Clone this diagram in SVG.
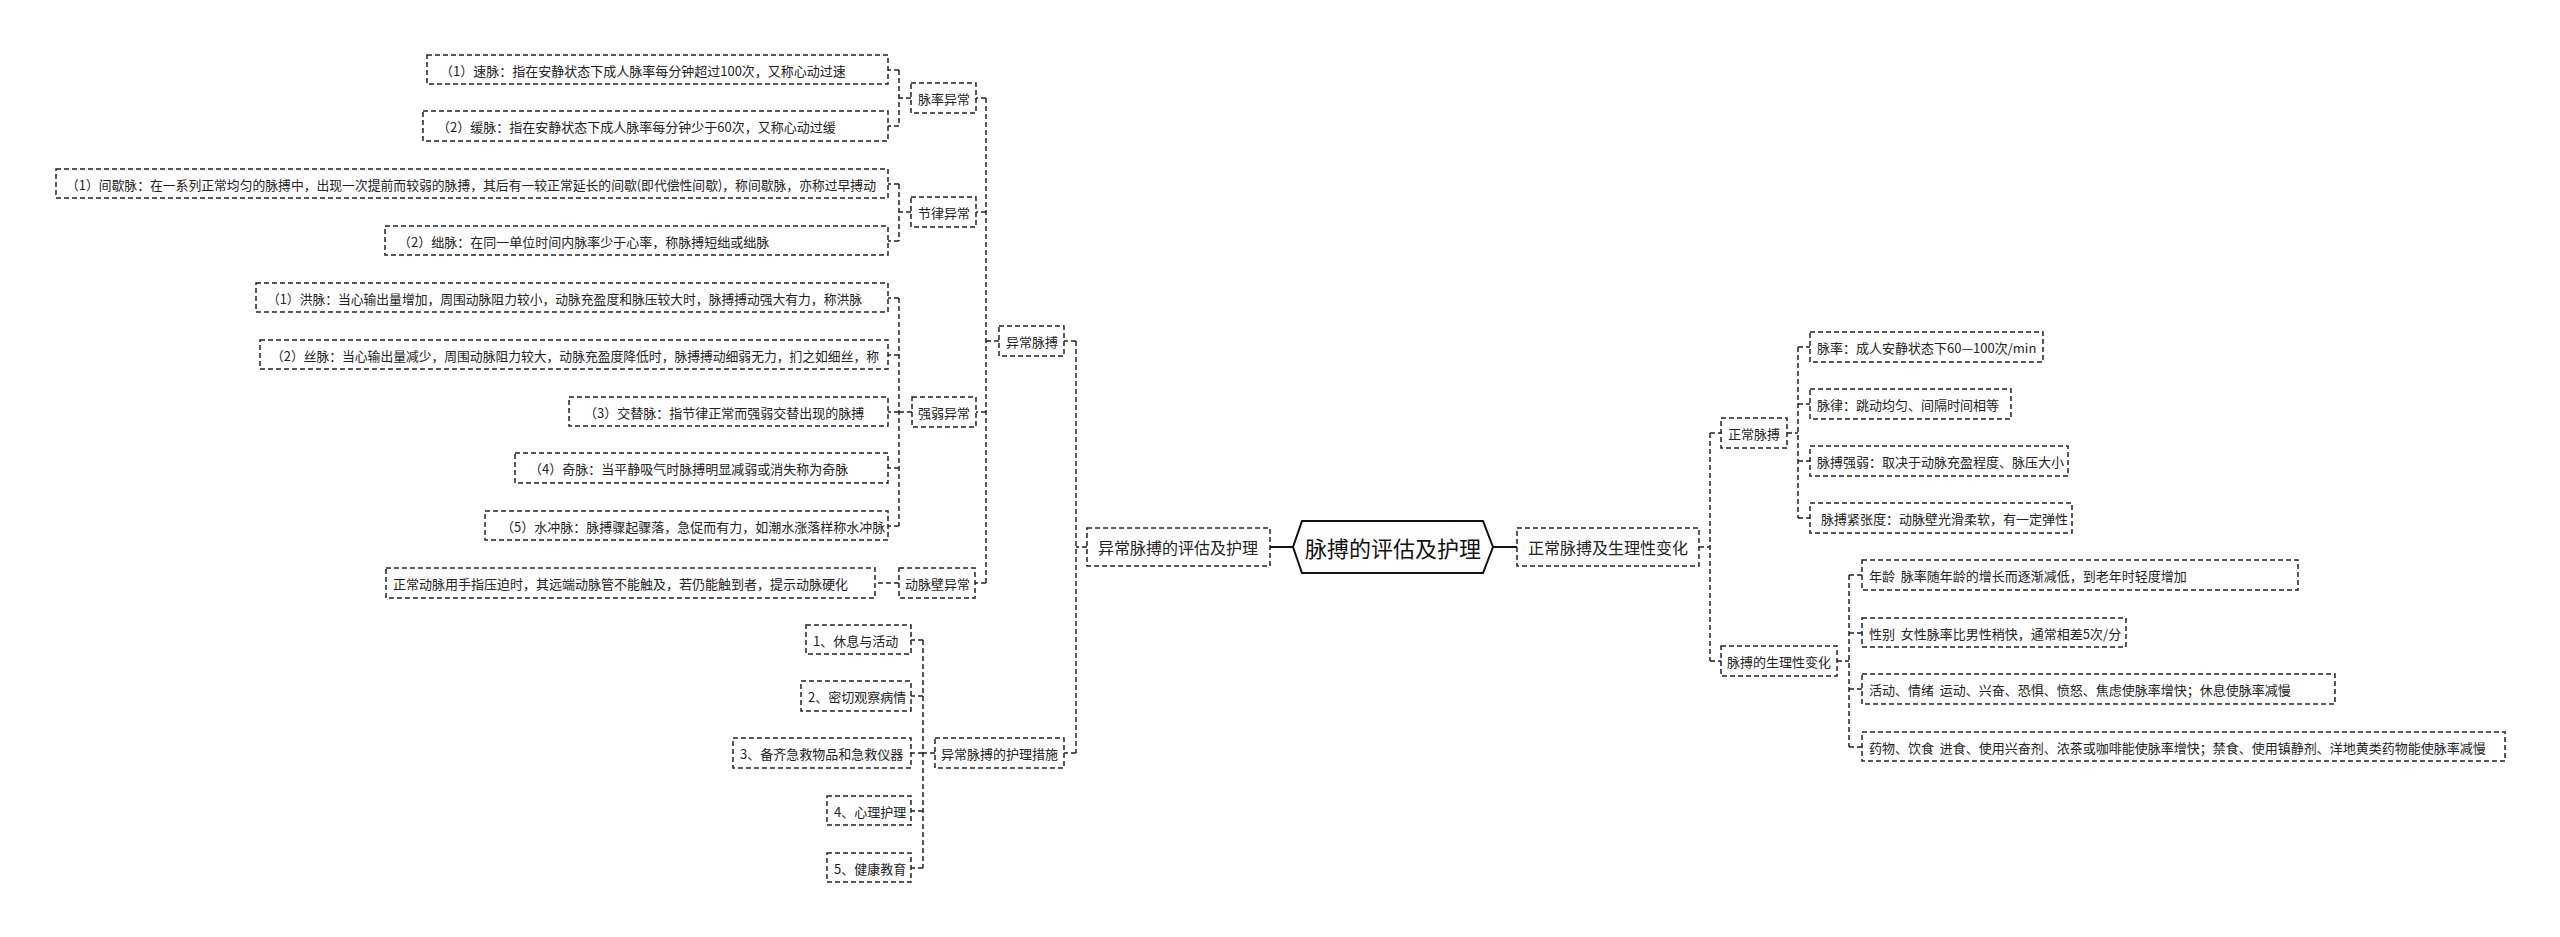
<svg xmlns="http://www.w3.org/2000/svg" width="2560" height="937" viewBox="0 0 2560 937">
<style>
.b{fill:#fff;stroke:#222;stroke-width:1.5;stroke-dasharray:5 3}
.c{fill:none;stroke:#222;stroke-width:1.5;stroke-dasharray:5 3}
.s{fill:none;stroke:#111;stroke-width:2}
text{font-family:"Noto Sans CJK SC","Liberation Sans",sans-serif;fill:#222;dominant-baseline:central}
.t13{font-size:13px}
.t16{font-size:16px}
.t22{font-size:22px;fill:#111}
</style>
<rect width="2560" height="937" fill="#fff"/>
<g id="connectors">
<path class="s" d="M1270 547H1293M1493 547H1517"/>
<path class="c" d="M1087 547H1076M1076 341V753M1076 341H1064M1076 753H1064"/>
<path class="c" d="M999 341H986M986 98V583M986 98H976M986 212H976M986 412H976M986 583H975"/>
<path class="c" d="M911 98H899M899 70V126M899 70H888M899 126H888"/>
<path class="c" d="M911 212H899M899 184V241M899 184H888M899 241H888"/>
<path class="c" d="M912 412H899M899 298V526M899 298H888M899 355H888M899 412H888M899 468H888M899 526H888"/>
<path class="c" d="M899 583H875"/>
<path class="c" d="M935 753H923M923 640V868M923 640H911M923 696H911M923 753H911M923 811H911M923 868H911"/>
<path class="c" d="M1699 547H1710M1710 433V661M1710 433H1721M1710 661H1721"/>
<path class="c" d="M1787 433H1798M1798 347V518M1798 347H1810M1798 404H1810M1798 461H1810M1798 518H1810"/>
<path class="c" d="M1837 661H1849M1849 575V747M1849 575H1862M1849 633H1862M1849 689H1862M1849 747H1862"/>
</g>
<g id="root"><polygon points="1293,547 1302,521 1483,521 1493,547 1483,573 1302,573" fill="#fff" stroke="#111" stroke-width="2"/><text class="t22" x="1393" y="547" text-anchor="middle">脉搏的评估及护理</text></g>
<g id="n-abn-eval"><rect class="b" x="1087" y="528" width="183" height="38"/><text class="t16" x="1098" y="547">异常脉搏的评估及护理</text></g>
<g id="n-normal-main"><rect class="b" x="1517" y="528" width="182" height="38"/><text class="t16" x="1528" y="547">正常脉搏及生理性变化</text></g>
<g id="n-abn"><rect class="b" x="999" y="326" width="65" height="30"/><text class="t13" x="1006" y="341">异常脉搏</text></g>
<g id="n-care"><rect class="b" x="935" y="738" width="129" height="30"/><text class="t13" x="941" y="753">异常脉搏的护理措施</text></g>
<g id="n-rate"><rect class="b" x="911" y="83" width="65" height="30"/><text class="t13" x="918" y="98">脉率异常</text></g>
<g id="n-rhythm"><rect class="b" x="911" y="197" width="65" height="30"/><text class="t13" x="918" y="212">节律异常</text></g>
<g id="n-strength"><rect class="b" x="912" y="397" width="64" height="30"/><text class="t13" x="918" y="412">强弱异常</text></g>
<g id="n-wall"><rect class="b" x="899" y="568" width="76" height="30"/><text class="t13" x="905" y="583">动脉壁异常</text></g>
<g id="n-fast"><rect class="b" x="427" y="55" width="461" height="29"/><text class="t13" x="440" y="70">（1）速脉：指在安静状态下成人脉率每分钟超过100次，又称心动过速</text></g>
<g id="n-slow"><rect class="b" x="423" y="111" width="465" height="30"/><text class="t13" x="437" y="126">（2）缓脉：指在安静状态下成人脉率每分钟少于60次，又称心动过缓</text></g>
<g id="n-inter"><rect class="b" x="56" y="169" width="832" height="29"/><text class="t13" x="66" y="184" textLength="810" lengthAdjust="spacingAndGlyphs">（1）间歇脉：在一系列正常均匀的脉搏中，出现一次提前而较弱的脉搏，其后有一较正常延长的间歇(即代偿性间歇)，称间歇脉，亦称过早搏动</text></g>
<g id="n-deficit"><rect class="b" x="385" y="226" width="503" height="29"/><text class="t13" x="398" y="241">（2）绌脉：在同一单位时间内脉率少于心率，称脉搏短绌或绌脉</text></g>
<g id="n-bound"><rect class="b" x="256" y="283" width="632" height="29"/><text class="t13" x="267" y="298" textLength="595" lengthAdjust="spacingAndGlyphs">（1）洪脉：当心输出量增加，周围动脉阻力较小，动脉充盈度和脉压较大时，脉搏搏动强大有力，称洪脉</text></g>
<g id="n-thread"><rect class="b" x="260" y="340" width="628" height="29"/><text class="t13" x="271" y="355" textLength="608" lengthAdjust="spacingAndGlyphs">（2）丝脉：当心输出量减少，周围动脉阻力较大，动脉充盈度降低时，脉搏搏动细弱无力，扪之如细丝，称</text></g>
<g id="n-alt"><rect class="b" x="569" y="397" width="319" height="29"/><text class="t13" x="584" y="412">（3）交替脉：指节律正常而强弱交替出现的脉搏</text></g>
<g id="n-para"><rect class="b" x="515" y="453" width="373" height="30"/><text class="t13" x="529" y="468">（4）奇脉：当平静吸气时脉搏明显减弱或消失称为奇脉</text></g>
<g id="n-water"><rect class="b" x="485" y="511" width="403" height="29"/><text class="t13" x="501" y="526">（5）水冲脉：脉搏骤起骤落，急促而有力，如潮水涨落样称水冲脉</text></g>
<g id="n-hard"><rect class="b" x="386" y="568" width="489" height="30"/><text class="t13" x="393" y="583">正常动脉用手指压迫时，其远端动脉管不能触及，若仍能触到者，提示动脉硬化</text></g>
<g id="n-c1"><rect class="b" x="806" y="625" width="105" height="29"/><text class="t13" x="813" y="640">1、休息与活动</text></g>
<g id="n-c2"><rect class="b" x="801" y="681" width="110" height="30"/><text class="t13" x="808" y="696">2、密切观察病情</text></g>
<g id="n-c3"><rect class="b" x="733" y="738" width="178" height="30"/><text class="t13" x="740" y="753">3、备齐急救物品和急救仪器</text></g>
<g id="n-c4"><rect class="b" x="827" y="796" width="84" height="29"/><text class="t13" x="834" y="811">4、心理护理</text></g>
<g id="n-c5"><rect class="b" x="827" y="853" width="84" height="29"/><text class="t13" x="834" y="868">5、健康教育</text></g>
<g id="n-normal"><rect class="b" x="1721" y="418" width="66" height="30"/><text class="t13" x="1728" y="433">正常脉搏</text></g>
<g id="n-phys"><rect class="b" x="1721" y="646" width="116" height="30"/><text class="t13" x="1727" y="661">脉搏的生理性变化</text></g>
<g id="n-r1"><rect class="b" x="1810" y="332" width="233" height="30"/><text class="t13" x="1817" y="347">脉率：成人安静状态下60—100次/min</text></g>
<g id="n-r2"><rect class="b" x="1810" y="389" width="201" height="30"/><text class="t13" x="1817" y="404">脉律：跳动均匀、间隔时间相等</text></g>
<g id="n-r3"><rect class="b" x="1810" y="446" width="258" height="30"/><text class="t13" x="1817" y="461">脉搏强弱：取决于动脉充盈程度、脉压大小</text></g>
<g id="n-r4"><rect class="b" x="1810" y="503" width="262" height="30"/><text class="t13" x="1821" y="518">脉搏紧张度：动脉壁光滑柔软，有一定弹性</text></g>
<g id="n-p1"><rect class="b" x="1862" y="560" width="436" height="30"/><text class="t13" x="1869" y="575" xml:space="preserve">年龄  脉率随年龄的增长而逐渐减低，到老年时轻度增加</text></g>
<g id="n-p2"><rect class="b" x="1862" y="618" width="264" height="29"/><text class="t13" x="1869" y="633" xml:space="preserve">性别  女性脉率比男性稍快，通常相差5次/分</text></g>
<g id="n-p3"><rect class="b" x="1862" y="674" width="473" height="30"/><text class="t13" x="1869" y="689" xml:space="preserve">活动、情绪  运动、兴奋、恐惧、愤怒、焦虑使脉率增快；休息使脉率减慢</text></g>
<g id="n-p4"><rect class="b" x="1862" y="732" width="643" height="29"/><text class="t13" x="1869" y="747" xml:space="preserve">药物、饮食  进食、使用兴奋剂、浓茶或咖啡能使脉率增快；禁食、使用镇静剂、洋地黄类药物能使脉率减慢</text></g>
</svg>
